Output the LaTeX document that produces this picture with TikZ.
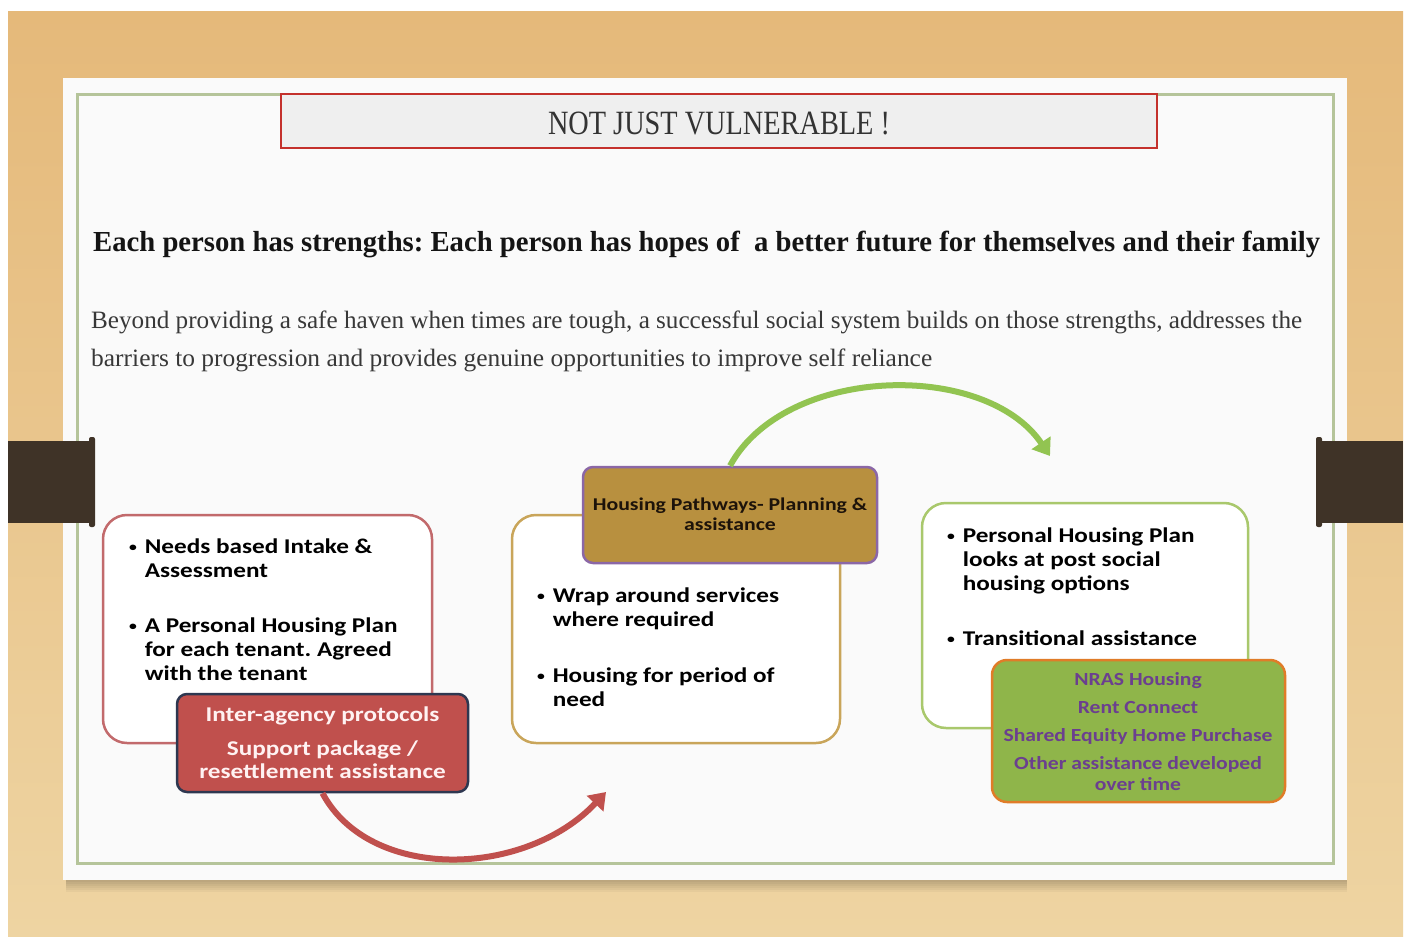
\documentclass[tikz,border=0pt]{standalone}
\usepackage{fontspec}
\usepackage{graphicx}
\setmainfont{Liberation Serif}
\newfontfamily\calib{Carlito}
\usetikzlibrary{arrows.meta}
\frenchspacing
\definecolor{woodtop}{HTML}{E5B97A}
\definecolor{woodbot}{HTML}{EED4A2}
\definecolor{slidebg}{HTML}{FAFAFA}
\definecolor{framec}{HTML}{B5C49A}
\definecolor{tabc}{HTML}{3F3327}
\definecolor{titlefill}{HTML}{EFEFEF}
\definecolor{titleline}{HTML}{C4312C}
\definecolor{boxonec}{HTML}{C26A6C}
\definecolor{boxtwoc}{HTML}{C9A55A}
\definecolor{boxthreec}{HTML}{A9C86C}
\definecolor{redfill}{HTML}{C0504D}
\definecolor{redline}{HTML}{2E3750}
\definecolor{goldfill}{HTML}{B8903F}
\definecolor{goldline}{HTML}{8B67A6}
\definecolor{greenfill}{HTML}{8FB54A}
\definecolor{greenline}{HTML}{E07C28}
\definecolor{purpletext}{HTML}{6B3F8F}
\definecolor{greenarrow}{HTML}{92C451}
\definecolor{redarrow}{HTML}{C0504D}
\newcommand{\sx}[1]{\scalebox{1.2}[1]{#1}}
\newcommand{\boxfont}{\fontsize{21}{24}\selectfont\calib\bfseries}
\newcommand{\bul}{{\fontsize{13}{13}\selectfont\raisebox{1.5pt}{\textbullet}}}
\begin{document}
\begin{tikzpicture}[x=1pt,y=-1pt,
  whitebox/.style={draw, line width=2.5pt, fill=white, rounded corners=24pt, inner sep=0pt},
  txt/.style={inner sep=0pt, anchor=base west},
  ctxt/.style={inner sep=0pt, anchor=base},
  bigarrow/.style={line width=6pt, -{Triangle[length=16pt,width=22pt]}}
]
\useasboundingbox (0,0) rectangle (1410,939);
\fill[white] (0,0) rectangle (1410,939);
\shade[top color=woodtop, bottom color=woodbot] (8,12) rectangle (1403,936);
% slide shadow
\foreach \s in {2,4,6,8,10,12}
  \fill[black, opacity=0.035] (66,84) rectangle (1347,880+\s);
\fill[slidebg] (63,78) rectangle (1347,880);
\draw[framec, line width=3pt] (77,95) rectangle (1333,863);
% side tabs
\fill[tabc] (8,441) rectangle (93,523);
\fill[tabc, rounded corners=2pt] (89,437) rectangle (95,527);
\fill[tabc] (1319,441) rectangle (1403,523);
\fill[tabc, rounded corners=2pt] (1316,437) rectangle (1322,527);
% title
\node[draw=titleline, fill=titlefill, line width=2pt, minimum width=876pt, minimum height=54pt, inner sep=0pt] (title) at (719,121) {};
\node[ctxt, text=black!80] (titletext) at (719,135) {\resizebox{342pt}{\height}{\fontsize{34}{40}\selectfont NOT JUST VULNERABLE !}};
% heading and paragraph
\node[txt, text=black!92] (heading) at (93,251) {\resizebox{1227pt}{\height}{\fontsize{29}{34}\selectfont\bfseries Each person has strengths: Each person has hopes of\ \ a better future for themselves and their family}};
\node[txt, text=black!78] (para1) at (91,328) {\resizebox{1211pt}{\height}{\fontsize{25}{30}\selectfont Beyond providing a safe haven when times are tough, a successful social system builds on those strengths, addresses the}};
\node[txt, text=black!78] (para2) at (91,366) {\resizebox{841pt}{\height}{\fontsize{25}{30}\selectfont barriers to progression and provides genuine opportunities to improve self reliance}};
% three white boxes
\node[whitebox, draw=boxonec, minimum width=329pt, minimum height=228pt] (boxone) at (267.5,629) {};
\node[whitebox, draw=boxtwoc, minimum width=328pt, minimum height=228pt] (boxtwo) at (676,629) {};
\node[whitebox, draw=boxthreec, minimum width=326pt, minimum height=225pt] (boxthree) at (1085,615.5) {};
% box texts
\node[txt] (textone) at (129,553) {\sx{\boxfont\begin{tabular}[t]{@{}p{13pt}@{}l@{}}
  \bul & Needs based Intake \& \\
   & Assessment \\[31pt]
  \bul & A Personal Housing Plan \\
   & for each tenant. Agreed \\
   & with the tenant
\end{tabular}}};
\node[txt] (texttwo) at (537,602) {\sx{\boxfont\begin{tabular}[t]{@{}p{13pt}@{}l@{}}
  \bul & Wrap around services \\
   & where required \\[32pt]
  \bul & Housing for period of \\
   & need
\end{tabular}}};
\node[txt] (textthree) at (947,542) {\sx{\boxfont\begin{tabular}[t]{@{}p{13pt}@{}l@{}}
  \bul & Personal Housing Plan \\
   & looks at post social \\
   & housing options \\[31pt]
  \bul & Transitional assistance
\end{tabular}}};
% coloured boxes
\node[draw=redline, fill=redfill, line width=2.5pt, rounded corners=10pt, minimum width=291pt, minimum height=98pt, inner sep=0pt] (redbox) at (322.5,743) {};
\node[ctxt, text=white!95!red] (redtext) at (322.5,721) {\sx{\boxfont\begin{tabular}[t]{@{}c@{}}
  Inter-agency protocols \\[10pt]
  Support package / \\[-1pt]
  resettlement assistance
\end{tabular}}};
\node[draw=goldline, fill=goldfill, line width=2.5pt, rounded corners=10pt, minimum width=294pt, minimum height=96pt, inner sep=0pt] (goldbox) at (730,515) {};
\node[ctxt, text=black!85!brown] (goldtext) at (730,510) {\scalebox{1.21}[1]{\fontsize{18}{20}\selectfont\calib\bfseries\begin{tabular}[t]{@{}c@{}}
  Housing Pathways- Planning \& \\
  assistance
\end{tabular}}};
\node[draw=greenline, fill=greenfill, line width=2.5pt, rounded corners=15pt, minimum width=293pt, minimum height=142pt, inner sep=0pt] (greenbox) at (1138.5,731) {};
\node[ctxt, text=purpletext] (greentext) at (1138,685) {\scalebox{1.17}[1]{\fontsize{18.5}{21}\selectfont\calib\bfseries\begin{tabular}[t]{@{}c@{}}
  NRAS Housing \\[7pt]
  Rent Connect \\[7pt]
  Shared Equity Home Purchase \\[7pt]
  Other assistance developed \\
  over time
\end{tabular}}};
% arrows
\coordinate (redend) at (606,792);
\coordinate (greenend) at (1050,456);
\draw[bigarrow, redarrow] (redbox.south) .. controls (370,882) and (525,878) .. (redend);
\draw[bigarrow, greenarrow] (goldbox.north) .. controls (785,365) and (985,360) .. (greenend);
\end{tikzpicture}
\end{document}
